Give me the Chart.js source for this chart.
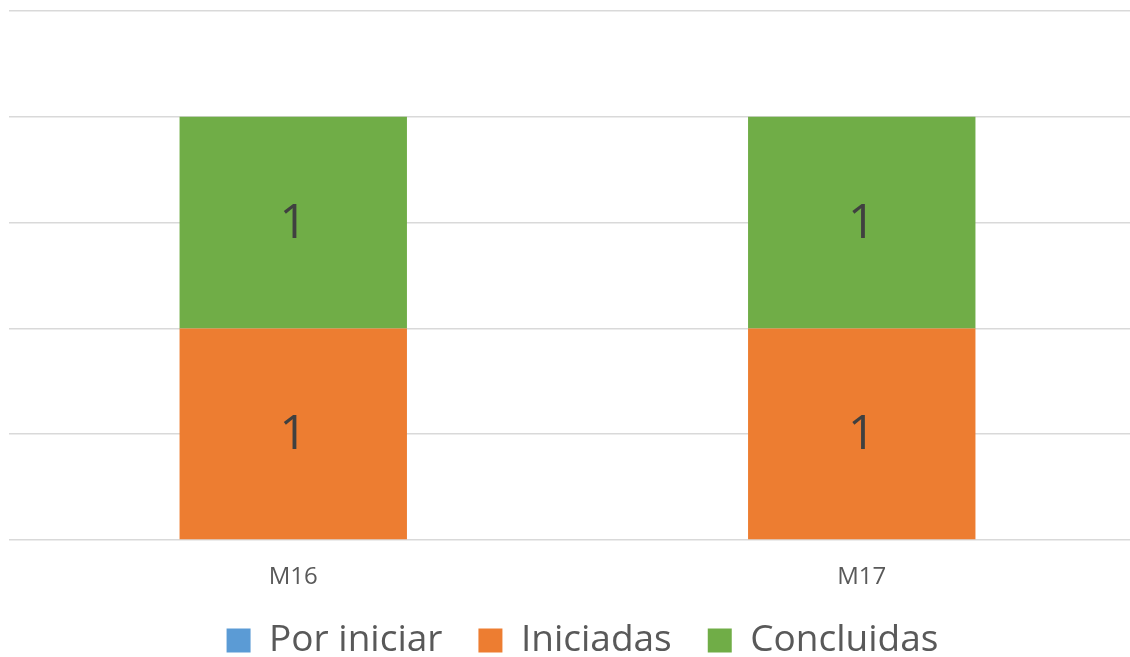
<!DOCTYPE html>
<html>
<head>
  <script src="https://cdn.jsdelivr.net/npm/chart.js"></script>
  <style>
    html, body { margin: 0; padding: 0; overflow: hidden; background: #fff; }
    .chart-container { position: relative; width: 1146px; height: 669px; }
  </style>
</head>
<body>
  <div class="chart-container">
    <canvas id="myChart"></canvas>
  </div>
  <script>
    const categories = ['M16', 'M17'];
    const porIniciar = [0, 0];
    const iniciadas = [1, 1];
    const concluidas = [1, 1];

    // draws the value in the middle of every non-empty bar
    const barLabels = {
      id: 'barLabels',
      afterLayout(chart) {
        // nudge the legend a little to the right
        chart.legend.left += 5;
        chart.legend.right += 5;
      },
      afterDatasetsDraw(chart) {
        const ctx = chart.ctx;
        ctx.save();
        ctx.fillStyle = '#404040';
        ctx.font = '48px "Open Sans"';
        ctx.textAlign = 'center';
        ctx.textBaseline = 'middle';
        chart.data.datasets.forEach((ds, i) => {
          chart.getDatasetMeta(i).data.forEach((bar, j) => {
            const v = ds.data[j];
            if (!v) return;
            ctx.fillText(v, bar.x, (bar.y + bar.base) / 2 + 2);
          });
        });
        ctx.restore();
      }
    };

    new Chart(document.getElementById('myChart').getContext('2d'), {
      type: 'bar',
      data: {
        labels: categories,
        datasets: [
          { label: 'Por iniciar', data: porIniciar, backgroundColor: '#5b9bd5' },
          { label: 'Iniciadas', data: iniciadas, backgroundColor: '#ed7d31' },
          { label: 'Concluidas', data: concluidas, backgroundColor: '#70ad47' }
        ]
      },
      options: {
        animation: false,
        responsive: true,
        maintainAspectRatio: false,
        layout: { padding: { left: 9, top: 11, right: 0, bottom: 0 } },
        datasets: { bar: { barPercentage: 0.4, categoryPercentage: 1 } },
        scales: {
          x: {
            stacked: true,
            grid: { display: false },
            border: { display: false },
            ticks: { color: '#595959', font: { family: 'Open Sans', size: 24 }, padding: 15 },
            afterFit(scale) { scale.height = 46; }
          },
          y: {
            stacked: true,
            min: 0, max: 2.5,
            ticks: { display: false, stepSize: 0.5 },
            border: { display: false },
            grid: { color: '#d9d9d9', lineWidth: 1.5, drawTicks: false }
          }
        },
        plugins: {
          tooltip: { enabled: false },
          legend: {
            position: 'bottom',
            labels: {
              color: '#595959',
              font: { family: 'Open Sans', size: 37 },
              boxWidth: 24, boxHeight: 24,
              padding: 36
            }
          }
        }
      },
      plugins: [barLabels]
    });
  </script>
</body>
</html>
